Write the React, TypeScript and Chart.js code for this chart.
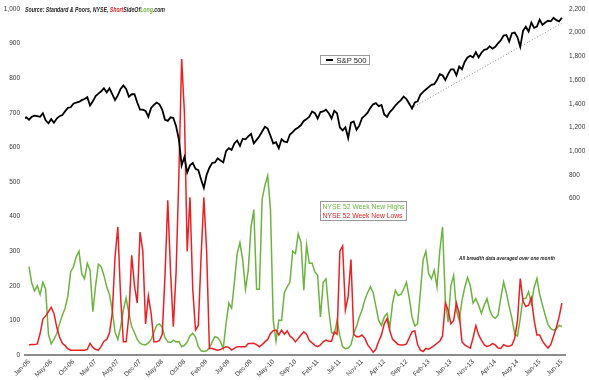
import { useEffect, useRef } from 'react';
import { Chart, registerables } from 'chart.js';

Chart.register(...registerables);

// Tick labels on the x axis (one every 100 trading days)
const X_LABELS = [
  'Jan-06', 'May-06', 'Oct-06', 'Mar-07', 'Aug-07', 'Dec-07', 'May-08', 'Oct-08', 'Feb-09',
  'Jul-09', 'Dec-09', 'May-10', 'Sep-10', 'Feb-11', 'Jul-11', 'Nov-11', 'Apr-12', 'Sep-12',
  'Feb-13', 'Jun-13', 'Nov-13', 'Apr-14', 'Aug-14', 'Jan-15', 'Jun-15',
];

// S&P 500 (right axis), sampled every 1/8 of a label interval, starting a quarter interval before Jan-06
const SP500 = [
  1270, 1285, 1265, 1290, 1300, 1295, 1290, 1320, 1260, 1235,
  1270, 1240, 1275, 1295, 1305, 1335, 1365, 1370, 1400, 1410,
  1415, 1430, 1440, 1455, 1385, 1420, 1465, 1485, 1505, 1530,
  1495, 1530, 1480, 1430, 1470, 1525, 1555, 1525, 1460, 1480,
  1480, 1410, 1350, 1350, 1340, 1290, 1365, 1390, 1410, 1395,
  1350, 1265, 1255, 1285, 1280, 1210, 1100, 880, 950, 820,
  880, 900, 850, 840, 760, 690, 800, 860, 900, 905,
  940, 920, 905, 1000, 1025, 1010, 1065, 1090, 1045, 1105,
  1100, 1125, 1145, 1065, 1095, 1125, 1165, 1205, 1190, 1130,
  1065, 1075, 1025, 1100, 1080, 1075, 1140, 1160, 1185, 1200,
  1220, 1255, 1270, 1290, 1335, 1320, 1275, 1330, 1335, 1350,
  1320, 1275, 1340, 1320, 1200, 1175, 1200, 1110, 1240, 1250,
  1180, 1215, 1280, 1300, 1325, 1365, 1395, 1405, 1380, 1390,
  1310, 1290, 1330, 1355, 1385, 1410, 1430, 1460, 1440, 1400,
  1360, 1410, 1420, 1475, 1500, 1520, 1540, 1560, 1565, 1600,
  1650, 1640, 1600, 1650, 1690, 1690, 1640, 1715, 1690, 1755,
  1790, 1805, 1790, 1835, 1790, 1830, 1855, 1860, 1885, 1865,
  1880, 1910, 1935, 1975, 1980, 1925, 1995, 2000, 1960, 1880,
  2015, 2050, 2010, 2085, 2040, 2050, 2110, 2065, 2085, 2100,
  2095, 2125, 2105, 2095, 2125,
];

// NYSE 52 week new highs (left axis), sampled every 1/8 of a label interval from Jan-06
const NEW_HIGHS = [
  255, 207, 185, 200, 175, 210, 190, 60, 32, 45,
  62, 90, 115, 135, 170, 240, 255, 283, 300, 235,
  220, 265, 245, 125, 200, 262, 255, 230, 197, 175,
  130, 66, 45, 80, 130, 165, 120, 82, 65, 45,
  34, 30, 29, 35, 45, 65, 86, 90, 80, 50,
  38, 36, 43, 38, 39, 24, 28, 37, 55, 63,
  52, 24, 12, 10, 12, 20, 38, 53, 50, 38,
  20, 91, 150, 135, 210, 293, 325, 274, 190, 245,
  370, 420, 190, 190, 450, 490, 518, 420, 100, 40,
  101, 100, 180, 197, 210, 300, 293, 350, 325, 187,
  318, 265, 265, 240, 230, 110, 210, 220, 130, 65,
  60, 100, 55, 24, 18, 20, 29, 62, 82, 110,
  130, 160, 180, 197, 180, 140, 100, 85, 110, 120,
  80, 150, 187, 172, 175, 190, 210, 165, 110, 84,
  90, 180, 275, 300, 235, 220, 245, 197, 300, 370,
  160, 95, 200, 230, 130, 100, 158, 195, 224, 200,
  150, 163, 144, 120, 144, 163, 130, 112, 106, 115,
  165, 211, 180, 140, 106, 60, 55, 106, 163, 163,
  183, 148, 195, 221, 175, 144, 115, 88, 76, 72,
  75, 86, 82,
];

// NYSE 52 week new lows (left axis), same sampling
const NEW_LOWS = [
  29, 30, 30, 32, 62, 104, 113, 125, 138, 120,
  80, 52, 34, 27, 18, 14, 14, 14, 14, 14,
  14, 16, 34, 22, 16, 14, 25, 40, 45, 64,
  120, 283, 370, 170, 38, 38, 115, 288, 200, 150,
  355, 300, 90, 170, 120, 38, 38, 42, 60, 230,
  447, 240, 82, 240, 520, 855, 700, 300, 456, 190,
  72, 85, 283, 456, 300, 19, 19, 16, 14, 16,
  20, 24, 22, 14, 19, 24, 24, 24, 24, 33,
  33, 34, 30, 24, 30, 38, 45, 62, 70, 72,
  58, 72, 60, 70, 55, 48, 38, 48, 58, 67,
  60, 42, 35, 28, 24, 29, 38, 43, 40, 40,
  67, 60, 300, 315, 130, 170, 276, 60, 53, 53,
  58, 48, 30, 19, 8, 17, 40, 58, 90, 105,
  70, 45, 38, 30, 29, 29, 32, 50, 67, 70,
  30, 14, 10, 19, 17, 22, 27, 34, 40, 55,
  150, 130, 90, 100, 150, 120, 38, 29, 24, 20,
  50, 85, 58, 43, 30, 24, 28, 33, 29, 20,
  19, 30, 26, 25, 29, 48, 100, 221, 155, 140,
  144, 165, 100, 58, 58, 40, 29, 20, 30, 55,
  80, 110, 150,
];

// Dotted S&P trend line (right axis)
const TREND_X = [17.24, 24.05];
const TREND_Y = [1365, 2085];

const RIGHT_TICKS = [600, 800, 1000, 1200, 1400, 1600, 1800, 2000, 2200];

const STEP = 1 / 8;
const SP_START = -0.25;

const GREEN = '#6cb43f';
const RED = '#ec2024';
const FONT = '"Liberation Sans", Arial, sans-serif';

type Seg = { t: string; c: string };

function drawFitted(ctx: CanvasRenderingContext2D, segs: Seg[], x: number, y: number, width: number, font: string) {
  ctx.save();
  ctx.font = font;
  ctx.textAlign = 'left';
  ctx.textBaseline = 'alphabetic';
  const widths = segs.map((s) => ctx.measureText(s.t).width);
  const total = widths.reduce((a, b) => a + b, 0);
  const k = width / total;
  ctx.translate(x, y);
  ctx.scale(k, 1);
  let cx = 0;
  segs.forEach((s, i) => {
    ctx.fillStyle = s.c;
    ctx.fillText(s.t, cx, 0);
    cx += widths[i];
  });
  ctx.restore();
}

const annotations = {
  id: 'annotations',
  afterDraw(chart: any) {
    const ctx: CanvasRenderingContext2D = chart.ctx;
    // source line
    drawFitted(ctx, [
      { t: 'Source: Standard & Poors, NYSE, ', c: '#222' },
      { t: 'Short', c: RED },
      { t: 'SideOf', c: '#222' },
      { t: 'Long', c: GREEN },
      { t: '.com', c: '#222' },
    ], 25, 12, 140, `italic bold 6.5px ${FONT}`);

    // S&P legend
    ctx.save();
    ctx.fillStyle = '#fff';
    ctx.fillRect(320.5, 55.5, 49, 9);
    ctx.strokeStyle = '#9a9a9a';
    ctx.lineWidth = 1;
    ctx.strokeRect(320.5, 55.5, 49, 9);
    ctx.strokeStyle = '#000';
    ctx.lineWidth = 2;
    ctx.beginPath();
    ctx.moveTo(326, 60);
    ctx.lineTo(333, 60);
    ctx.stroke();
    ctx.restore();
    drawFitted(ctx, [{ t: 'S&P 500', c: '#222' }], 336.5, 62.5, 30, `7px ${FONT}`);

    // breadth legend
    ctx.save();
    ctx.fillStyle = '#fff';
    ctx.fillRect(320.5, 201.5, 86, 19);
    ctx.strokeStyle = '#9a9a9a';
    ctx.lineWidth = 1;
    ctx.strokeRect(320.5, 201.5, 86, 19);
    ctx.restore();
    drawFitted(ctx, [{ t: 'NYSE 52 Week New Highs', c: GREEN }], 322.5, 209, 82, `7px ${FONT}`);
    drawFitted(ctx, [{ t: 'NYSE 52 Week New Lows', c: RED }], 322.5, 217.5, 80, `7px ${FONT}`);

    // note
    drawFitted(ctx, [{ t: 'All breadth data averaged over one month', c: '#222' }], 459, 260, 96, `italic bold 5.5px ${FONT}`);
  },
};

export default function App() {
  const ref = useRef<HTMLCanvasElement | null>(null);

  useEffect(() => {
    if (!ref.current) return;
    const tickFont = { family: FONT, size: 6.5 };
    const chart = new Chart(ref.current, {
      type: 'line',
      data: {
        datasets: [
          {
            label: 'S&P 500',
            data: SP500.map((v, i) => ({ x: SP_START + i * STEP, y: v })),
            borderColor: '#000',
            borderWidth: 1.8,
            pointRadius: 0,
            yAxisID: 'yR',
            order: 0,
          },
          {
            label: 'NYSE 52 Week New Lows',
            data: NEW_LOWS.map((v, i) => ({ x: i * STEP, y: v })),
            borderColor: RED,
            borderWidth: 1.5,
            pointRadius: 0,
            yAxisID: 'y',
            order: 1,
          },
          {
            label: 'NYSE 52 Week New Highs',
            data: NEW_HIGHS.map((v, i) => ({ x: i * STEP, y: v })),
            borderColor: GREEN,
            borderWidth: 1.5,
            pointRadius: 0,
            yAxisID: 'y',
            order: 2,
          },
          {
            label: 'trend',
            data: TREND_X.map((x, i) => ({ x, y: TREND_Y[i] })),
            borderColor: '#888',
            borderWidth: 1,
            borderDash: [1, 2],
            pointRadius: 0,
            yAxisID: 'yR',
            order: 3,
          },
        ],
      },
      options: {
        animation: false,
        responsive: false,
        devicePixelRatio: 1,
        layout: { padding: { top: 8, left: 0, right: 0, bottom: 0 } },
        plugins: { legend: { display: false }, tooltip: { enabled: false } },
        scales: {
          x: {
            type: 'linear',
            min: -0.18,
            max: 24.14,
            grid: { display: false, drawTicks: false },
            border: { display: true, color: '#8c8c8c', width: 2 },
            afterBuildTicks: (scale: any) => {
              scale.ticks = X_LABELS.map((_, i) => ({ value: i }));
            },
            afterFit: (scale: any) => {
              scale.height = 25;
            },
            ticks: {
              autoSkip: false,
              maxRotation: 45,
              minRotation: 45,
              padding: 3,
              color: '#333',
              font: tickFont,
              callback: (_v: any, i: number) => X_LABELS[i],
            },
          },
          y: {
            position: 'left',
            min: 0,
            max: 1000,
            grid: { display: false, drawTicks: false },
            border: { display: false },
            afterFit: (scale: any) => {
              scale.width = 25;
            },
            ticks: {
              stepSize: 100,
              padding: 5,
              color: '#333',
              font: tickFont,
              callback: (v: any) => Number(v).toLocaleString('en-US'),
            },
          },
          yR: {
            position: 'right',
            min: -720,
            max: 2200,
            grid: { display: false, drawTicks: false },
            border: { display: false },
            afterBuildTicks: (scale: any) => {
              scale.ticks = RIGHT_TICKS.map((v) => ({ value: v }));
            },
            afterFit: (scale: any) => {
              scale.width = 24;
            },
            ticks: {
              padding: 4,
              color: '#333',
              font: tickFont,
              callback: (v: any) => Number(v).toLocaleString('en-US'),
            },
          },
        },
      },
      plugins: [annotations],
    });
    return () => chart.destroy();
  }, []);

  return (
    <div style={{ position: 'absolute', left: 0, top: 0, width: 589, height: 380, background: '#fff' }}>
      <canvas ref={ref} width={589} height={380} style={{ display: 'block' }} />
    </div>
  );
}
